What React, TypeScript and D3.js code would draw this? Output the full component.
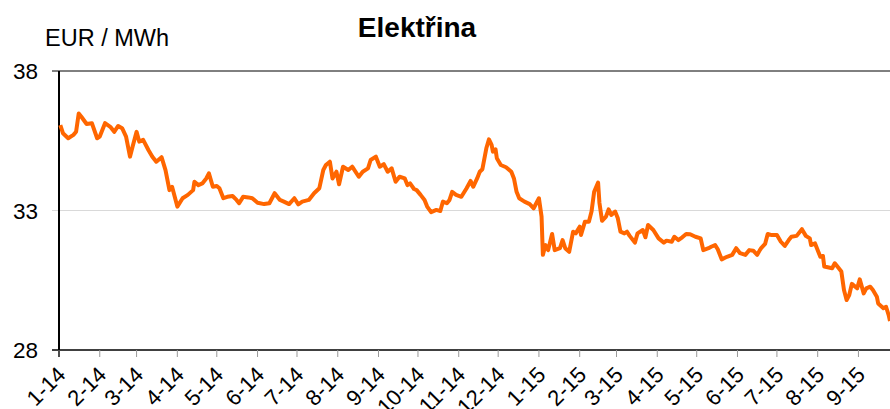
import React, { useEffect, useRef } from 'react';
import * as d3 from 'd3';

// daily electricity price
const dates: string[] = [
  '2014-01-02', '2014-01-04', '2014-01-08', '2014-01-12', '2014-01-14', '2014-01-16', '2014-01-18', '2014-01-22',
  '2014-01-26', '2014-01-30', '2014-02-01', '2014-02-05', '2014-02-09', '2014-02-12', '2014-02-15', '2014-02-18',
  '2014-02-21', '2014-02-24', '2014-02-26', '2014-03-01', '2014-03-03', '2014-03-06', '2014-03-10', '2014-03-13',
  '2014-03-16', '2014-03-20', '2014-03-23', '2014-03-26', '2014-03-28', '2014-04-01', '2014-04-05', '2014-04-09',
  '2014-04-13', '2014-04-14', '2014-04-17', '2014-04-20', '2014-04-23', '2014-04-25', '2014-04-28', '2014-05-01',
  '2014-05-03', '2014-05-06', '2014-05-09', '2014-05-13', '2014-05-16', '2014-05-18', '2014-05-21', '2014-05-25',
  '2014-05-28', '2014-06-01', '2014-06-06', '2014-06-10', '2014-06-14', '2014-06-18', '2014-06-21', '2014-06-25',
  '2014-06-29', '2014-07-02', '2014-07-05', '2014-07-10', '2014-07-14', '2014-07-18', '2014-07-21', '2014-07-23',
  '2014-07-26', '2014-07-28', '2014-07-31', '2014-08-02', '2014-08-05', '2014-08-09', '2014-08-12', '2014-08-17',
  '2014-08-20', '2014-08-24', '2014-08-26', '2014-08-30', '2014-09-02', '2014-09-05', '2014-09-08', '2014-09-11',
  '2014-09-14', '2014-09-17', '2014-09-21', '2014-09-23', '2014-09-25', '2014-09-28', '2014-09-30', '2014-10-03',
  '2014-10-06', '2014-10-08', '2014-10-11', '2014-10-15', '2014-10-18', '2014-10-20', '2014-10-23', '2014-10-25',
  '2014-10-27', '2014-10-30', '2014-11-03', '2014-11-07', '2014-11-10', '2014-11-12', '2014-11-15', '2014-11-17',
  '2014-11-19', '2014-11-22', '2014-11-24', '2014-11-26', '2014-11-27', '2014-11-29', '2014-11-30', '2014-12-03',
  '2014-12-07', '2014-12-11', '2014-12-13', '2014-12-15', '2014-12-17', '2014-12-21', '2014-12-25', '2014-12-28',
  '2015-01-01', '2015-01-03', '2015-01-04', '2015-01-06', '2015-01-08', '2015-01-11', '2015-01-13', '2015-01-17',
  '2015-01-19', '2015-01-21', '2015-01-24', '2015-01-27', '2015-01-29', '2015-02-01', '2015-02-02', '2015-02-05',
  '2015-02-08', '2015-02-10', '2015-02-12', '2015-02-15', '2015-02-16', '2015-02-18', '2015-02-21', '2015-02-23',
  '2015-02-25', '2015-02-28', '2015-03-02', '2015-03-04', '2015-03-07', '2015-03-09', '2015-03-11', '2015-03-15',
  '2015-03-17', '2015-03-21', '2015-03-23', '2015-03-25', '2015-03-29', '2015-04-02', '2015-04-06', '2015-04-08',
  '2015-04-12', '2015-04-14', '2015-04-17', '2015-04-20', '2015-04-23', '2015-04-26', '2015-04-30', '2015-05-04',
  '2015-05-06', '2015-05-10', '2015-05-12', '2015-05-15', '2015-05-17', '2015-05-20', '2015-05-24', '2015-05-28',
  '2015-05-31', '2015-06-03', '2015-06-07', '2015-06-10', '2015-06-13', '2015-06-16', '2015-06-18', '2015-06-19',
  '2015-06-22', '2015-06-24', '2015-06-27', '2015-07-01', '2015-07-04', '2015-07-07', '2015-07-10', '2015-07-12',
  '2015-07-16', '2015-07-20', '2015-07-23', '2015-07-26', '2015-07-27', '2015-07-30', '2015-08-03', '2015-08-05',
  '2015-08-06', '2015-08-12', '2015-08-14', '2015-08-16', '2015-08-19', '2015-08-21', '2015-08-23', '2015-08-25',
  '2015-08-27', '2015-08-31', '2015-09-02', '2015-09-05', '2015-09-07', '2015-09-10', '2015-09-12', '2015-09-15',
  '2015-09-16', '2015-09-20', '2015-09-22', '2015-09-24', '2015-09-25',
];

const prices: number[] = [
  36.06, 35.77, 35.59, 35.71, 35.82, 36.48, 36.36, 36.10,
  36.13, 35.59, 35.65, 36.13, 36.00, 35.82, 36.03, 35.95,
  35.65, 34.93, 35.29, 35.82, 35.47, 35.53, 35.17, 34.93,
  34.75, 34.91, 34.45, 33.73, 33.85, 33.14, 33.44, 33.56,
  33.73, 34.03, 33.91, 33.97, 34.15, 34.33, 33.85, 33.88,
  33.80, 33.44, 33.49, 33.52, 33.38, 33.26, 33.49, 33.47,
  33.44, 33.28, 33.23, 33.26, 33.62, 33.38, 33.32, 33.23,
  33.44, 33.22, 33.32, 33.38, 33.62, 33.80, 34.45, 34.63,
  34.75, 34.15, 34.39, 33.94, 34.57, 34.45, 34.57, 34.21,
  34.39, 34.51, 34.81, 34.93, 34.57, 34.66, 34.39, 34.51,
  34.03, 34.21, 34.15, 33.91, 33.97, 33.77, 33.73, 33.56,
  33.38, 33.14, 32.94, 33.02, 32.98, 33.32, 33.26, 33.38,
  33.67, 33.56, 33.49, 33.80, 34.06, 33.85, 34.15, 34.39,
  34.48, 35.23, 35.55, 35.35, 35.11, 35.19, 34.87, 34.63,
  34.55, 34.39, 34.15, 33.67, 33.44, 33.32, 33.23, 33.08,
  33.44, 32.78, 31.41, 31.76, 31.58, 32.16, 31.58, 31.65,
  31.94, 31.65, 31.52, 32.24, 32.18, 32.42, 32.12, 32.60,
  32.60, 32.96, 33.67, 34.00, 33.28, 32.63, 32.78, 33.04,
  32.84, 32.96, 32.72, 32.24, 32.18, 32.24, 32.09, 31.85,
  32.18, 32.30, 32.04, 32.48, 32.30, 32.00, 31.85, 31.92,
  31.88, 32.06, 31.94, 32.04, 32.16, 32.15, 32.06, 32.00,
  31.58, 31.65, 31.70, 31.76, 31.61, 31.25, 31.34, 31.41,
  31.65, 31.47, 31.41, 31.58, 31.56, 31.41, 31.58, 31.65,
  31.80, 32.16, 32.12, 32.12, 31.88, 31.73, 31.94, 32.06,
  32.09, 32.33, 32.09, 32.00, 31.76, 31.82, 31.34, 31.37,
  30.99, 30.93, 31.11, 30.99, 30.81, 30.15, 29.79, 29.97,
  30.37, 30.21, 30.53, 30.03, 30.21, 30.27, 30.15, 29.91,
  29.67, 29.50, 29.55, 29.25, 29.04,
];

const yTicks = [28, 33, 38];
const xStart = '2014-01-01';
const xEnd = '2015-09-25';

const FONT = 'Arial, "Liberation Sans", sans-serif';

const App: React.FC = () => {
  const svgRef = useRef<SVGSVGElement>(null);

  useEffect(() => {
    if (!svgRef.current) return;
    const width = 890;
    const height = 409;
    const left = 59, right = 890, top = 71, bottom = 350;

    const svg = d3.select(svgRef.current)
      .attr('width', width)
      .attr('height', height);
    svg.selectAll('*').remove();

    const parse = d3.timeParse('%Y-%m-%d');
    const data = dates.map((d, i) => ({ date: parse(d)!, value: prices[i] }));

    const x = d3.scaleTime().domain([parse(xStart)!, parse(xEnd)!]).range([left, right]);
    const y = d3.scaleLinear().domain([28, 38]).range([bottom, top]);

    // title + unit
    svg.append('text')
      .attr('x', 417).attr('y', 37)
      .attr('text-anchor', 'middle')
      .attr('font-family', FONT)
      .attr('font-weight', 'bold')
      .attr('font-size', 28)
      .text('Elektřina');

    svg.append('text')
      .attr('x', 45).attr('y', 46)
      .attr('font-family', FONT)
      .attr('font-size', 23.5)
      .text('EUR / MWh');

    // horizontal lines: middle one is a light grid line, top/bottom dark
    svg.append('g')
      .selectAll('line')
      .data(yTicks)
      .join('line')
        .attr('x1', left - 7)
        .attr('x2', right)
        .attr('y1', d => y(d))
        .attr('y2', d => y(d))
        .attr('stroke', d => d === 33 ? '#d9d9d9' : '#000')
        .attr('stroke-width', d => d === 28 ? 1.5 : 1);

    svg.append('g')
      .selectAll('text')
      .data(yTicks)
      .join('text')
        .attr('x', 38)
        .attr('y', d => y(d) + 8)
        .attr('text-anchor', 'end')
        .attr('font-family', FONT)
        .attr('font-size', 22.5)
        .text(d => d);

    // y axis line
    svg.append('line')
      .attr('x1', left).attr('x2', left)
      .attr('y1', top).attr('y2', bottom + 7)
      .attr('stroke', '#000')
      .attr('stroke-width', 2);

    // monthly ticks on x
    const months = d3.timeMonth.range(parse(xStart)!, parse(xEnd)!);
    const fmt = (d: Date) => `${d.getMonth() + 1}-${String(d.getFullYear()).slice(2)}`;

    svg.append('g')
      .selectAll('line')
      .data(months)
      .join('line')
        .attr('x1', d => x(d))
        .attr('x2', d => x(d))
        .attr('y1', bottom)
        .attr('y2', bottom + 7)
        .attr('stroke', '#999');

    svg.append('g')
      .selectAll('text')
      .data(months)
      .join('text')
        .attr('transform', d => `translate(${x(d) + 8}, ${bottom + 26}) rotate(-45)`)
        .attr('text-anchor', 'end')
        .attr('font-family', FONT)
        .attr('font-size', 22)
        .text(d => fmt(d));

    // price line
    const line = d3.line<{ date: Date; value: number }>()
      .x(d => x(d.date))
      .y(d => y(d.value));

    svg.append('path')
      .datum(data)
      .attr('d', line)
      .attr('fill', 'none')
      .attr('stroke', '#ff6600')
      .attr('stroke-width', 4)
      .attr('stroke-linejoin', 'round');
  }, []);

  return (
    <div style={{ position: 'absolute', left: 0, top: 0 }}>
      <svg ref={svgRef} style={{ display: 'block', background: '#fff' }}></svg>
    </div>
  );
};

export default App;
